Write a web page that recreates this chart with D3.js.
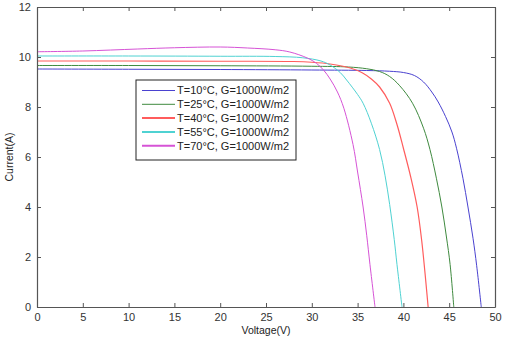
<!DOCTYPE html>
<html>
<head>
<meta charset="utf-8">
<script src="https://cdn.jsdelivr.net/npm/d3@7"></script>
<style>
  html, body { margin: 0; padding: 0; background: #fff; }
  svg { display: block; font-family: "Liberation Sans", Arial, sans-serif; }
</style>
</head>
<body>
<svg id="chart" width="507" height="337"></svg>
<script>
// I-V characteristics of a PV module at 1000 W/m2 for five cell temperatures
const seriesNames = [
  "T=10°C, G=1000W/m2",
  "T=25°C, G=1000W/m2",
  "T=40°C, G=1000W/m2",
  "T=55°C, G=1000W/m2",
  "T=70°C, G=1000W/m2"
];

const v10 = [0, 10, 20, 30, 36, 38.5, 40, 41.2, 42.2, 43.1, 43.8, 44.6, 45.3, 45.8, 46.5, 47.05, 47.6, 48.0, 48.5];
const i10 = [9.52, 9.51, 9.5, 9.48, 9.46, 9.43, 9.38, 9.26, 9.0, 8.6, 8.2, 7.62, 7.0, 6.35, 5.15, 4.0, 2.75, 1.65, 0];

const v25 = [0, 10, 20, 30, 34, 36, 37.4, 38.5, 39.6, 41.0, 42.2, 42.9, 43.6, 44.2, 44.7, 45.1, 45.5];
const i25 = [9.66, 9.66, 9.65, 9.63, 9.6, 9.53, 9.42, 9.22, 8.85, 8.15, 7.15, 6.3, 5.15, 4.0, 2.8, 1.7, 0];

const v40 = [0, 10, 20, 28, 30, 32, 34.2, 35.5, 36.5, 37.4, 38.5, 39.3, 40.0, 40.8, 41.5, 42.0, 42.7];
const i40 = [9.84, 9.84, 9.83, 9.82, 9.79, 9.72, 9.56, 9.37, 9.12, 8.8, 8.15, 7.3, 6.35, 5.2, 4.0, 2.65, 0];

const v55 = [0, 10, 20, 26, 29, 31, 32, 33.1, 33.8, 35, 35.6, 36.5, 37.4, 38, 38.5, 39, 39.3, 39.85];
const i55 = [10.04, 10.04, 10.03, 10.02, 9.97, 9.84, 9.68, 9.38, 9.08, 8.5, 8.15, 7.35, 6.3, 5.25, 4.1, 2.7, 1.7, 0];

const v70 = [0, 5, 11, 15, 20, 23, 26, 27.6, 29.5, 30.5, 31.3, 32, 32.8, 33.5, 34.5, 35, 35.6, 36, 36.35, 36.9];
const i70 = [10.21, 10.24, 10.32, 10.37, 10.4, 10.36, 10.29, 10.2, 9.96, 9.75, 9.47, 9.12, 8.6, 7.95, 6.5, 5.4, 4.0, 2.85, 1.7, 0];

const xTicks = [0, 5, 10, 15, 20, 25, 30, 35, 40, 45, 50];
const yTicks = [0, 2, 4, 6, 8, 10, 12];
const xLabel = "Voltage(V)";
const yLabel = "Current(A)";

const colors = ["#4a42d0", "#3f8a3f", "#ff5c5c", "#4fd2d2", "#d653d6"];
const widths = [1, 1, 1.2, 1, 1];

const voltages = [v10, v25, v40, v55, v70];
const currents = [i10, i25, i40, i55, i70];
const series = seriesNames.map((name, k) => ({
  name,
  color: colors[k],
  width: widths[k],
  points: voltages[k].map((v, j) => ({ v, i: currents[k][j] }))
}));

const margin = { left: 37, right: 12, top: 7, bottom: 30 };
const W = 507, H = 337;
const svg = d3.select("#chart");

const x = d3.scaleLinear().domain([0, 50]).range([margin.left, W - margin.right]);
const y = d3.scaleLinear().domain([0, 12]).range([H - margin.bottom, margin.top]);

const axisColor = "#555";
const tickFont = "11px";

// curves
const line = d3.line()
  .x(d => x(d.v))
  .y(d => y(d.i))
  .curve(d3.curveCatmullRom.alpha(0.5));

const plot = svg.append("g");
plot.selectAll("path.curve")
  .data(series)
  .join("path")
  .attr("class", "curve")
  .attr("fill", "none")
  .attr("stroke", d => d.color)
  .attr("stroke-width", d => d.width)
  .attr("stroke-linejoin", "round")
  .attr("d", d => line(d.points));

// axes with inward ticks on all four sides
function styleAxis(g) {
  g.selectAll(".domain").attr("stroke", axisColor).attr("stroke-width", 1.2);
  g.selectAll(".tick line").attr("stroke", axisColor);
  g.selectAll(".tick text").attr("fill", "#333").style("font-size", tickFont);
}

svg.append("g")
  .attr("transform", `translate(0,${y(0)})`)
  .call(d3.axisBottom(x).tickValues(xTicks).tickSizeInner(-4).tickSizeOuter(0).tickPadding(6))
  .call(styleAxis);

svg.append("g")
  .attr("transform", `translate(0,${y(12)})`)
  .call(d3.axisTop(x).tickValues(xTicks).tickSizeInner(-4).tickSizeOuter(0).tickFormat(""))
  .call(styleAxis);

svg.append("g")
  .attr("transform", `translate(${x(0)},0)`)
  .call(d3.axisLeft(y).tickValues(yTicks).tickSizeInner(-4).tickSizeOuter(0).tickPadding(6))
  .call(styleAxis);

svg.append("g")
  .attr("transform", `translate(${x(50)},0)`)
  .call(d3.axisRight(y).tickValues(yTicks).tickSizeInner(-4).tickSizeOuter(0).tickFormat(""))
  .call(styleAxis);

// axis titles
svg.append("text")
  .attr("x", x(25))
  .attr("y", H - 3)
  .attr("text-anchor", "middle")
  .attr("fill", "#222")
  .style("font-size", "10.5px")
  .text(xLabel);

svg.append("text")
  .attr("transform", `translate(13,${y(6)}) rotate(-90)`)
  .attr("text-anchor", "middle")
  .attr("fill", "#222")
  .style("font-size", "10.5px")
  .text(yLabel);

// legend
const lg = svg.append("g").attr("transform", "translate(136,80)");
lg.append("rect")
  .attr("width", 160).attr("height", 80)
  .attr("fill", "#fff")
  .attr("stroke", "#222").attr("stroke-width", 1);
const rows = lg.selectAll("g.row")
  .data(series)
  .join("g")
  .attr("class", "row")
  .attr("transform", (d, k) => `translate(0,${10.5 + k * 13.8})`);
rows.append("line")
  .attr("x1", 6).attr("x2", 39)
  .attr("stroke", d => d.color)
  .attr("stroke-width", (d, k) => k >= 2 ? 2 : 1);
rows.append("text")
  .attr("x", 41)
  .attr("dy", "0.35em")
  .attr("fill", "#222")
  .style("font-size", "11px")
  .text(d => d.name);
</script>
</body>
</html>
